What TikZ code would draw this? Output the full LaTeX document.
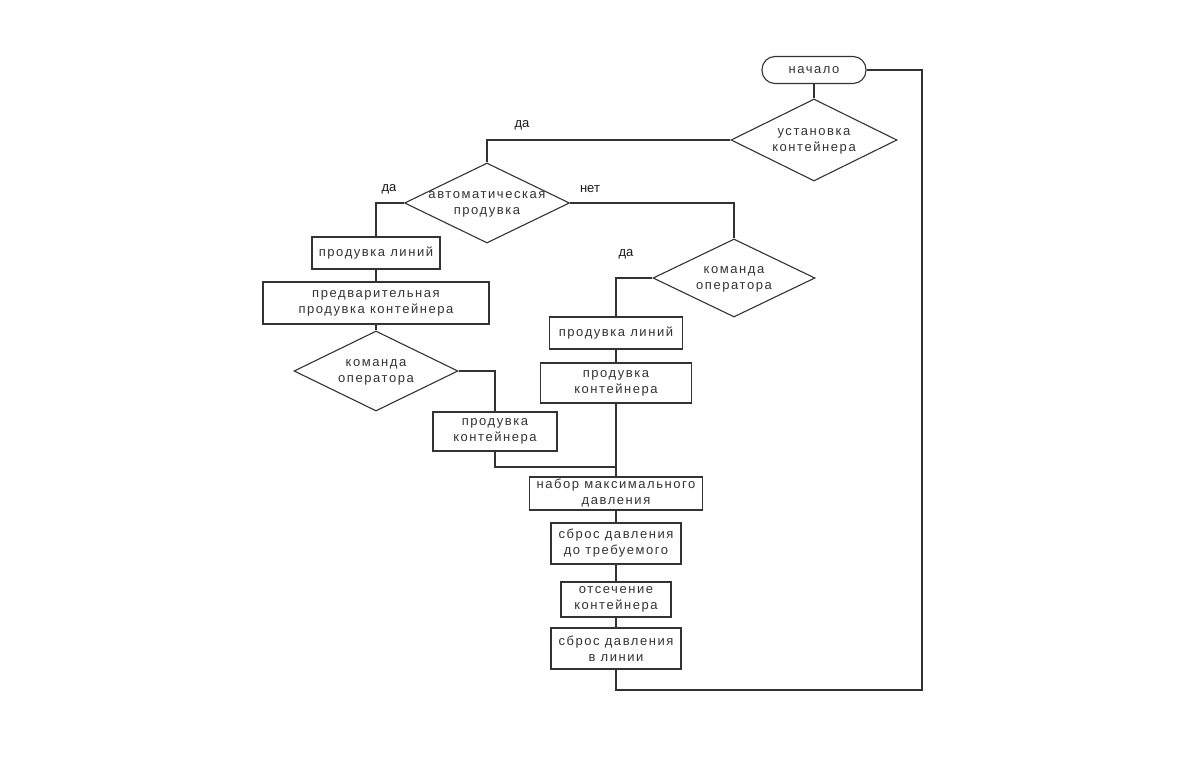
\documentclass[tikz,border=0pt]{standalone}
\usepackage{fontspec}
\setmainfont{Liberation Sans}
\newfontfamily\boxfont[LetterSpace=12]{Liberation Sans}
\usetikzlibrary{shapes.geometric}
\tikzset{
  ln/.style={draw=black!80, line width=1.1pt},
  txt/.style={font=\boxfont\fontsize{13}{16}\selectfont, text=black!80, align=center, inner sep=0pt},
  proc/.style={ln, txt, rectangle},
  dec/.style={ln, txt, diamond, aspect=2},
  term/.style={ln, txt, rectangle, rounded corners=13pt},
  lbl/.style={font=\fontsize{13}{15}\selectfont, text=black!90, inner sep=0pt}
}
\newcommand{\dtext}[1]{\makebox[0pt]{\begin{tabular}{@{}c@{}}#1\end{tabular}}}
\begin{document}
\begin{tikzpicture}[x=1pt,y=-1pt]
\fill[white] (0,0) rectangle (1200,768);
\useasboundingbox (0,0) rectangle (1200,768);
\node[term, minimum width=104pt, minimum height=27pt] (start) at (814,70) {начало};
\node[dec, minimum width=166pt, minimum height=82pt] (d1) at (814,140) {\dtext{установка\\контейнера}};
\node[dec, minimum width=165pt, minimum height=80pt] (d2) at (487,203) {\dtext{автоматическая\\продувка}};
\node[proc, minimum width=128pt, minimum height=32pt] (b1) at (376,253) {продувка линий};
\node[proc, minimum width=226pt, minimum height=42pt] (b2) at (376,303) {предварительная\\продувка контейнера};
\node[dec, minimum width=164pt, minimum height=80pt] (d3) at (376,371) {\dtext{команда\\оператора}};
\node[proc, minimum width=124pt, minimum height=39pt] (b3) at (495,431.5) {продувка\\контейнера};
\node[dec, minimum width=162pt, minimum height=78pt] (d4) at (734,278) {\dtext{команда\\оператора}};
\node[proc, minimum width=133pt, minimum height=32pt] (b4) at (616,333) {продувка линий};
\node[proc, minimum width=151pt, minimum height=40pt] (b5) at (616,383) {продувка\\контейнера};
\node[proc, minimum width=173pt, minimum height=33pt] (b6) at (616,493.5) {набор максимального\\давления};
\node[proc, minimum width=130pt, minimum height=41pt] (b7) at (616,543.5) {сброс давления\\до требуемого};
\node[proc, minimum width=110pt, minimum height=35pt] (b8) at (616,599.5) {отсечение\\контейнера};
\node[proc, minimum width=130pt, minimum height=41pt] (b9) at (616,648.5) {сброс давления\\в линии};
\coordinate (c1) at (922,690);
\coordinate (j) at (616,467);
\node[lbl] (l1) at (522,125) {да};
\node[lbl] (l2) at (389,189) {да};
\node[lbl] (l3) at (590,189) {нет};
\node[lbl] (l4) at (626,254) {да};
\draw[ln] (start.east) -| (c1) -| (b9.south);
\draw[ln] (start.south) -- (d1.north);
\draw[ln] (d1.west) -| (d2.north);
\draw[ln] (d2.west) -| (b1.north);
\draw[ln] (d2.east) -| (d4.north);
\draw[ln] (b1.south) -- (b2.north);
\draw[ln] (b2.south) -- (d3.north);
\draw[ln] (d3.east) -| (b3.north);
\draw[ln] (b3.south) |- (j);
\draw[ln] (d4.west) -| (b4.north);
\draw[ln] (b4.south) -- (b5.north);
\draw[ln] (b5.south) -- (b6.north);
\draw[ln] (b6.south) -- (b7.north);
\draw[ln] (b7.south) -- (b8.north);
\draw[ln] (b8.south) -- (b9.north);
\end{tikzpicture}
\end{document}
